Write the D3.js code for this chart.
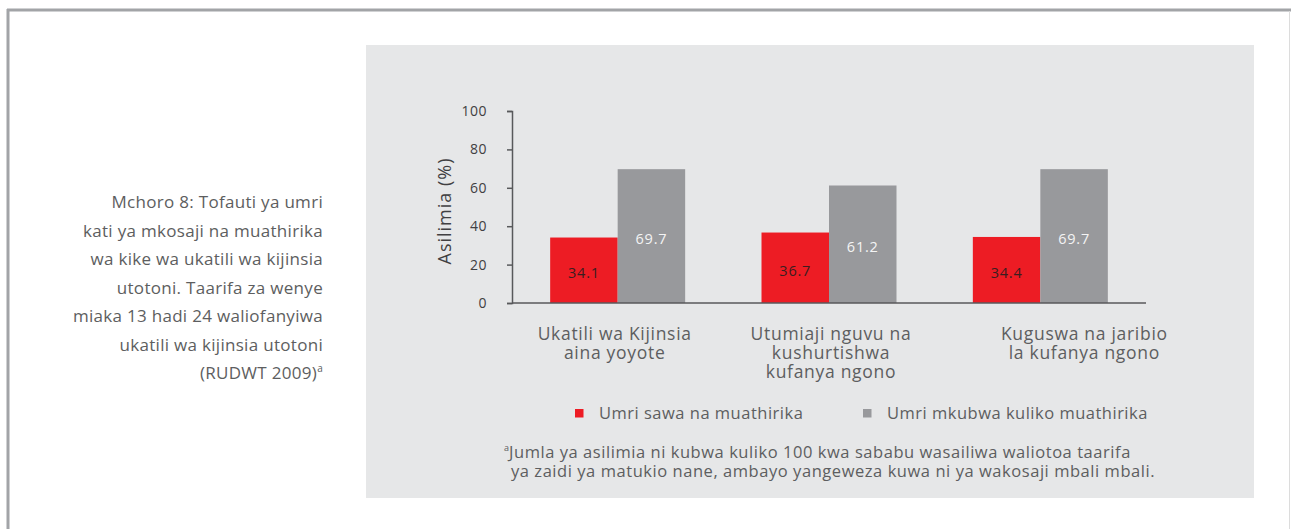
<!DOCTYPE html>
<html>
<head>
<meta charset="utf-8">
<script src="https://cdn.jsdelivr.net/npm/d3@7"></script>
<style>
  body { margin: 0; background: #fff; }
  svg text { font-family: "Open Sans", "Liberation Sans", Arial, sans-serif; }
</style>
</head>
<body>
<div id="chart"></div>
<script>
const categories = [
  ["Ukatili wa Kijinsia", "aina yoyote"],
  ["Utumiaji nguvu na", "kushurtishwa", "kufanya ngono"],
  ["Kuguswa na jaribio", "la kufanya ngono"]
];
const seriesNames = ["Umri sawa na muathirika", "Umri mkubwa kuliko muathirika"];
const sameAge = [34.1, 36.7, 34.4];
const olderAge = [69.7, 61.2, 69.7];
const yTicks = [0, 20, 40, 60, 80, 100];
const captionLines = [
  "Mchoro 8: Tofauti ya umri",
  "kati ya mkosaji na muathirika",
  "wa kike wa ukatili wa kijinsia",
  "utotoni. Taarifa za wenye",
  "miaka 13 hadi 24 waliofanyiwa",
  "ukatili wa kijinsia utotoni",
  "(RUDWT 2009)"
];
const footnoteLines = [
  "Jumla ya asilimia ni kubwa kuliko 100 kwa sababu wasailiwa waliotoa taarifa",
  "ya zaidi ya matukio nane, ambayo yangeweza kuwa ni ya wakosaji mbali mbali."
];

const W = 1291, H = 529;
const red = "#ed1c24", grey = "#98999c", textCol = "#5d5e60";

const svg = d3.select("#chart").append("svg")
  .attr("width", W).attr("height", H);

// outer frame
svg.append("rect").attr("width", W).attr("height", H).attr("fill", "#fff");
svg.append("line").attr("x1", 7).attr("x2", W).attr("y1", 10).attr("y2", 10)
  .attr("stroke", "#a2a4a7").attr("stroke-width", 3);
svg.append("line").attr("x1", 8).attr("x2", 8).attr("y1", 9).attr("y2", H)
  .attr("stroke", "#a2a4a7").attr("stroke-width", 3);
svg.append("line").attr("x1", 1289.5).attr("x2", 1289.5).attr("y1", 11).attr("y2", H)
  .attr("stroke", "#dcdcdc").attr("stroke-width", 1);

// grey panel
svg.append("rect").attr("x", 366).attr("y", 45).attr("width", 888).attr("height", 453)
  .attr("fill", "#e6e7e8");

// caption on the left
svg.append("g").selectAll("text").data(captionLines).join("text")
  .attr("x", 323).attr("y", (d, i) => 208 + i * 28.5)
  .attr("text-anchor", "end").attr("fill", textCol)
  .style("font-size", "17px").style("letter-spacing", "0.3px")
  .each(function (d, i) {
    const t = d3.select(this);
    t.append("tspan").text(d);
    if (i === captionLines.length - 1) {
      t.append("tspan").text("a").attr("dy", -7).style("font-size", "10px");
    }
  });

// scales
const x0 = d3.scaleBand().domain(d3.range(categories.length)).range([512, 1146]);
const barW = 67.5;
const x1 = d3.scaleBand().domain([0, 1])
  .range([x0.bandwidth() / 2 - barW, x0.bandwidth() / 2 + barW]);
const y = d3.scaleLinear().domain([0, 100]).range([303, 111]);

// y axis
const yAxis = svg.append("g").attr("transform", "translate(512,0)")
  .call(d3.axisLeft(y).tickValues(yTicks).tickSize(5).tickPadding(20));
yAxis.select(".domain").attr("stroke", "#58595b").attr("stroke-width", 1.5);
yAxis.selectAll(".tick line").attr("stroke", "#58595b").attr("stroke-width", 1.5);
yAxis.selectAll(".tick text").attr("fill", "#414042")
  .style("font-size", "14px").style("letter-spacing", "0.5px")
  .style("font-family", "'Open Sans', sans-serif");

svg.append("text")
  .attr("transform", "translate(451,211) rotate(-90)")
  .attr("text-anchor", "middle").attr("fill", "#414042")
  .style("font-size", "18px").style("letter-spacing", "1px").text("Asilimia (%)");

// bars
const rows = categories.map((c, i) => ({ i, vals: [sameAge[i], olderAge[i]] }));
const groups = svg.append("g").selectAll("g").data(rows).join("g")
  .attr("transform", d => `translate(${x0(d.i)},0)`);

groups.selectAll("rect").data(d => d.vals.map((v, k) => ({ v, k }))).join("rect")
  .attr("x", d => x1(d.k)).attr("width", x1.bandwidth())
  .attr("y", d => y(d.v)).attr("height", d => y(0) - y(d.v))
  .attr("fill", d => d.k === 0 ? red : grey);

groups.selectAll("text.val").data(d => d.vals.map((v, k) => ({ v, k }))).join("text")
  .attr("class", "val")
  .attr("x", d => x1(d.k) + x1.bandwidth() / 2)
  .attr("y", d => (y(d.v) + y(0)) / 2 + 8)
  .attr("text-anchor", "middle")
  .attr("fill", d => d.k === 0 ? "#3a1e20" : "#f4f4f4")
  .style("font-size", "14.5px").style("letter-spacing", "0.8px")
  .text(d => d.v.toFixed(1));

// x axis baseline
svg.append("line").attr("x1", 512).attr("x2", 1146).attr("y1", y(0)).attr("y2", y(0))
  .attr("stroke", "#58595b").attr("stroke-width", 1.5);

// category labels
const labelShift = [-3, 2, 44];
svg.append("g").selectAll("text").data(categories).join("text")
  .attr("text-anchor", "middle").attr("fill", textCol)
  .style("font-size", "17.5px").style("letter-spacing", "0.7px")
  .each(function (lines, i) {
    const cx = x0(i) + x0.bandwidth() / 2 + labelShift[i];
    d3.select(this).selectAll("tspan").data(lines).join("tspan")
      .attr("x", cx).attr("y", (d, j) => 340 + j * 19).text(d => d);
  });

// legend
const legend = svg.append("g").selectAll("g").data(seriesNames).join("g")
  .attr("transform", (d, i) => `translate(${i === 0 ? 575 : 863},409)`);
legend.append("rect").attr("width", 8.5).attr("height", 8.5)
  .attr("fill", (d, i) => i === 0 ? red : grey);
legend.append("text").attr("x", 24).attr("y", 10).attr("fill", textCol)
  .style("font-size", "16.5px").style("letter-spacing", "0.5px").text(d => d);

// footnote
const fn = svg.append("g").attr("fill", textCol).style("font-size", "16.5px");
fn.append("text").attr("x", 504).attr("y", 451).style("font-size", "9px").text("a");
fn.selectAll("text.fl").data(footnoteLines).join("text").attr("class", "fl")
  .attr("x", (d, i) => i === 0 ? 509 : 511).attr("y", (d, i) => 457.5 + i * 19.5)
  .style("letter-spacing", "0.55px")
  .text(d => d);
</script>
</body>
</html>
